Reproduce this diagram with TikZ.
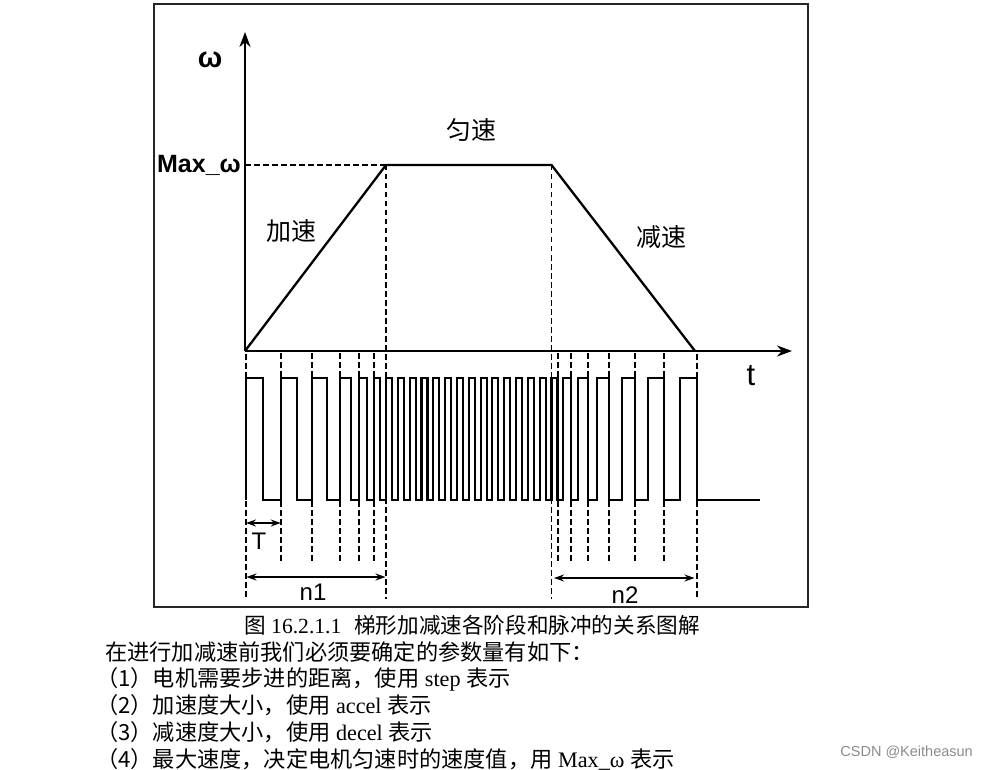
\documentclass[tikz,border=0pt]{standalone}
\usepackage{fontspec}
\setmainfont{Liberation Serif}
\setsansfont{Liberation Sans}
\newfontfamily\cjk{Noto Sans CJK SC}
\usetikzlibrary{arrows.meta}
\tikzset{
  frameline/.style={line width=1.6pt, black!85},
  axisline/.style={line width=2.4pt, -{Stealth[length=15pt,width=11pt]}},
  curveline/.style={line width=2.3pt, line join=miter},
  pulseline/.style={line width=2.1pt, line join=miter},
  dashline/.style={line width=1.8pt, dash pattern=on 5.5pt off 3.5pt},
  dimarrow/.style={line width=1.6pt, {Stealth[length=10pt,width=7pt]}-{Stealth[length=10pt,width=7pt]}},
  lab/.style={font=\sffamily\fontsize{24}{24}\selectfont, inner sep=0pt},
  cjklab/.style={font=\cjk\fontsize{25}{25}\selectfont, inner sep=0pt},
  body/.style={font=\fontsize{22.2}{26}\selectfont, inner sep=0pt, anchor=west}
}
\newcommand{\C}[1]{{\cjk #1}}
\begin{document}
\begin{tikzpicture}[x=1pt,y=-1pt]
\useasboundingbox (0,0) rectangle (988,770);
\fill[white] (0,0) rectangle (988,770);
% frame
\draw[frameline] (154,4) rectangle (808,607);
% key coordinates
\coordinate (O) at (245,351);
\coordinate (ytop) at (245,32);
\coordinate (xend) at (792,351);
\coordinate (ymax) at (245,165);
\coordinate (A) at (386,165);
\coordinate (B) at (551.5,165);
\coordinate (E) at (695,351);
% axes
\draw[axisline] (O) -- (ytop);
\draw[axisline] (O) -- (xend);
% trapezoid
\draw[curveline] (O) -- (A) -- (B) -- (E);
\draw[dashline] (ymax) -- (A);
% axis labels
\node[font=\sffamily\bfseries\fontsize{29}{29}\selectfont, inner sep=0pt] (wlab) at (210,60) {ω};
\node[font=\sffamily\bfseries\fontsize{25}{25}\selectfont, inner sep=0pt, anchor=east] (maxlab) at (241,165) {Max\_ω};
\node[font=\sffamily\fontsize{31}{31}\selectfont, inner sep=0pt] (tlab) at (751,376) {t};
\node[cjklab] (uni) at (471,130) {匀速};
\node[cjklab] (acc) at (291,231) {加速};
\node[cjklab] (dec) at (661,237) {减速};
% pulse train
\draw[pulseline] (245.7,500)
  \foreach \r/\f in {245.7/263, 280.7/296.7, 312.3/326.7, 340/350.7, 359.3/366.7, 374.3/380} {
    -- (\r,500) -- (\r,378) -- (\f,378) -- (\f,500) }
  \foreach \k in {0,...,14} {
    -- ({386+11.82*\k},500) -- ({386+11.82*\k},378) -- ({392+11.82*\k},378) -- ({392+11.82*\k},500) }
  \foreach \r/\f in {563.3/570.7, 578.3/588.3, 597.3/609.3, 621.7/635, 648.3/664.3, 680/697.3} {
    -- (\r,500) -- (\r,378) -- (\f,378) -- (\f,500) }
  -- (760,500);
% dashed markers
\foreach \x in {280.7, 312.3, 340, 359.3, 374.3, 557.6, 570.7, 588.3, 609.3, 635, 664.3} {
  \draw[dashline] (\x,353) -- (\x,378);
  \draw[dashline] (\x,501) -- (\x,561);
}
\foreach \x in {245.7, 697.3} {
  \draw[dashline] (\x,354) -- (\x,378);
  \draw[dashline] (\x,501) -- (\x,599);
}
\coordinate (Abot) at (386,599);
\coordinate (Bbot) at (551.5,599);
\draw[dashline] (A) -- (Abot);
\draw[dashline] (B) -- (Bbot);
% dimension arrows
\coordinate (T1) at (246,523);
\coordinate (T2) at (280.7,523);
\draw[dimarrow] (T1) -- (T2);
\node[lab] (Tlab) at (259,541) {T};
\coordinate (N1a) at (246.5,577);
\coordinate (N1b) at (385.5,577);
\draw[dimarrow] (N1a) -- (N1b);
\node[lab] (n1lab) at (313,592) {n1};
\coordinate (N2a) at (554,578);
\coordinate (N2b) at (694.5,578);
\draw[dimarrow] (N2a) -- (N2b);
\node[lab] (n2lab) at (625,595) {n2};
% caption and text
\node[body, font=\fontsize{21.6}{26}\selectfont] (cap) at (244,625) {\C{图} 16.2.1.1\hspace{0.6em}\C{梯形加减速各阶段和脉冲的关系图解}};
\node[body] (l0) at (105,652) {\C{在进行加减速前我们必须要确定的参数量有如下：}};
\node[body] (l1) at (96,679) {\C{（1）电机需要步进的距离，使用} step \C{表示}};
\node[body] (l2) at (96,705) {\C{（2）加速度大小，使用} accel \C{表示}};
\node[body] (l3) at (96,732) {\C{（3）减速度大小，使用} decel \C{表示}};
\node[body] (l4) at (96,759) {\C{（4）最大速度，决定电机匀速时的速度值，用} Max\_ω \C{表示}};
% watermark
\node[font=\sffamily\fontsize{14.5}{14.5}\selectfont, text=black!45, inner sep=0pt, anchor=east] (wm) at (973,752) {CSDN @Keitheasun};
\end{tikzpicture}
\end{document}
